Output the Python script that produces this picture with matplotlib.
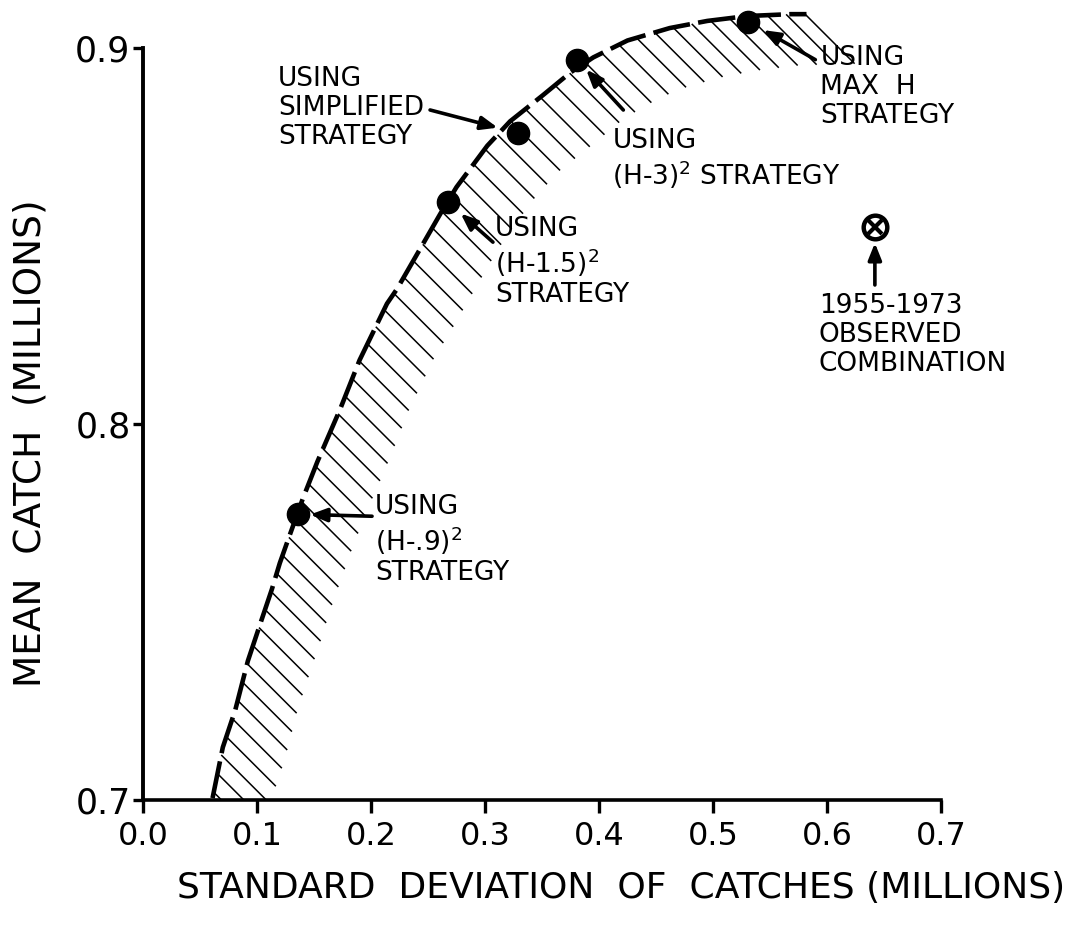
import numpy as np
import matplotlib.pyplot as plt
from matplotlib.collections import LineCollection

plt.rcParams['font.family'] = ['DejaVu Sans']
plt.rcParams['lines.scale_dashes'] = False

# frontier curve
frontier_x = [0.061, 0.070, 0.081, 0.092, 0.103, 0.113, 0.120, 0.127, 0.140, 0.153,
              0.173, 0.190, 0.214, 0.223, 0.261, 0.275, 0.302, 0.322, 0.351, 0.375,
              0.395, 0.425, 0.462, 0.495, 0.530, 0.568, 0.582]
frontier_y = [0.7005, 0.714, 0.724, 0.737, 0.747, 0.756, 0.763, 0.769, 0.780, 0.790,
              0.804, 0.817, 0.832, 0.836, 0.856, 0.863, 0.874, 0.8805, 0.8875, 0.8935,
              0.8975, 0.902, 0.9053, 0.9072, 0.9085, 0.909, 0.909]

# strategies on the frontier
strategy_labels = ['USING\n(H-.9)$^2$\nSTRATEGY',
                   'USING\n(H-1.5)$^2$\nSTRATEGY',
                   'USING\nSIMPLIFIED\nSTRATEGY',
                   'USING\n(H-3)$^2$ STRATEGY',
                   'USING\nMAX  H\nSTRATEGY']
strategy_x = [0.136, 0.2675, 0.329, 0.381, 0.531]
strategy_y = [0.776, 0.859, 0.8774, 0.8968, 0.907]

observed_label = '1955-1973\nOBSERVED\nCOMBINATION'
observed_x = [0.642]
observed_y = [0.8524]

xticks = [0.0, 0.1, 0.2, 0.3, 0.4, 0.5, 0.6, 0.7]
xticklabels = ['0.0', '0.1', '0.2', '0.3', '0.4', '0.5', '0.6', '0.7']
yticks = [0.7, 0.8, 0.9]
yticklabels = ['0.7', '0.8', '0.9']

# annotation layout in pixels: arrow tail offset, gap at tip, text top-left offset
arrow_tail_px = [(74, -2), (45, -40), (-88, 23), (46, -50), (67, -38)]
arrow_gap_px = [12, 17, 21, 13, 17]
text_pos_px = [(77, 20), (47, -14), (-240, 67), (35, -68), (72, -23)]

PX = 72 / 100  # pixel -> points

fig = plt.figure(figsize=(10.73, 9.36), dpi=100)
ax = fig.add_axes([143 / 1073, 136 / 936, 798 / 1073, 792 / 936])
ax.set_xlim(0, 0.7)
ax.set_ylim(0.7, 0.7 + 792 / 3760)

# hatching below the frontier
pts = ax.transData.transform(np.column_stack([frontier_x, frontier_y]))
arc = np.concatenate([[0], np.cumsum(np.hypot(*np.diff(pts, axis=0).T))])
s = np.arange(6, arc[-1], 19)
starts = np.column_stack([np.interp(s, arc, pts[:, 0]), np.interp(s, arc, pts[:, 1])])
ends = starts + np.array([1, -1]) / np.sqrt(2) * 70
inv = ax.transData.inverted()
segs = [[inv.transform(a), inv.transform(b)] for a, b in zip(starts, ends)]
ax.add_collection(LineCollection(segs, colors='black', linewidths=1.1, zorder=2))

ax.plot(frontier_x, frontier_y, color='black', lw=3.3, dashes=(27, 6),
        dash_capstyle='butt', zorder=3)

ax.plot(strategy_x, strategy_y, 'o', color='black', markersize=16, zorder=5)
ax.plot(observed_x, observed_y, 'o', mfc='white', mec='black', mew=3.2,
        markersize=17, zorder=5)
ax.plot(observed_x, observed_y, 'x', color='black', mew=3, markersize=10, zorder=6)

arrow_style = dict(arrowstyle='-|>,head_length=1.0,head_width=0.4', color='black',
                   lw=2.6, shrinkA=0)

for lab, x, y, tail, gap, tpos in zip(strategy_labels, strategy_x, strategy_y,
                                      arrow_tail_px, arrow_gap_px, text_pos_px):
    ax.annotate('', xy=(x, y), xytext=(tail[0] * PX, tail[1] * PX),
                textcoords='offset points',
                arrowprops=dict(arrow_style, shrinkB=gap * PX))
    ax.annotate(lab, xy=(x, y), xytext=(tpos[0] * PX, tpos[1] * PX),
                textcoords='offset points', ha='left', va='top', fontsize=19,
                linespacing=1.15)

ax.annotate('', xy=(observed_x[0], observed_y[0]), xytext=(0, -58 * PX),
            textcoords='offset points', arrowprops=dict(arrow_style, shrinkB=16 * PX))
ax.annotate(observed_label, xy=(observed_x[0], observed_y[0]),
            xytext=(-56 * PX, -66 * PX), textcoords='offset points',
            ha='left', va='top', fontsize=19, linespacing=1.15)

# axes styling
for side in ['top', 'right']:
    ax.spines[side].set_visible(False)
ax.spines['left'].set_linewidth(2.8)
ax.spines['bottom'].set_linewidth(2.6)
ax.spines['left'].set_bounds(0.7, 0.9)

ax.set_xticks(xticks)
ax.set_xticklabels(xticklabels, fontsize=23)
ax.set_yticks(yticks)
ax.set_yticklabels(yticklabels, fontsize=25)
ax.tick_params(axis='x', direction='out', length=9, width=2.4, pad=6)
ax.tick_params(axis='y', direction='out', length=7, width=2.4, pad=2)

fig.text(621 / 1073, 1 - 888 / 936, 'STANDARD  DEVIATION  OF  CATCHES (MILLIONS)',
         ha='center', va='center', fontsize=26)
fig.text(31 / 1073, 1 - 443 / 936, 'MEAN  CATCH  (MILLIONS)', rotation=90,
         ha='center', va='center', fontsize=27)

fig.savefig('out.png', dpi=100)
